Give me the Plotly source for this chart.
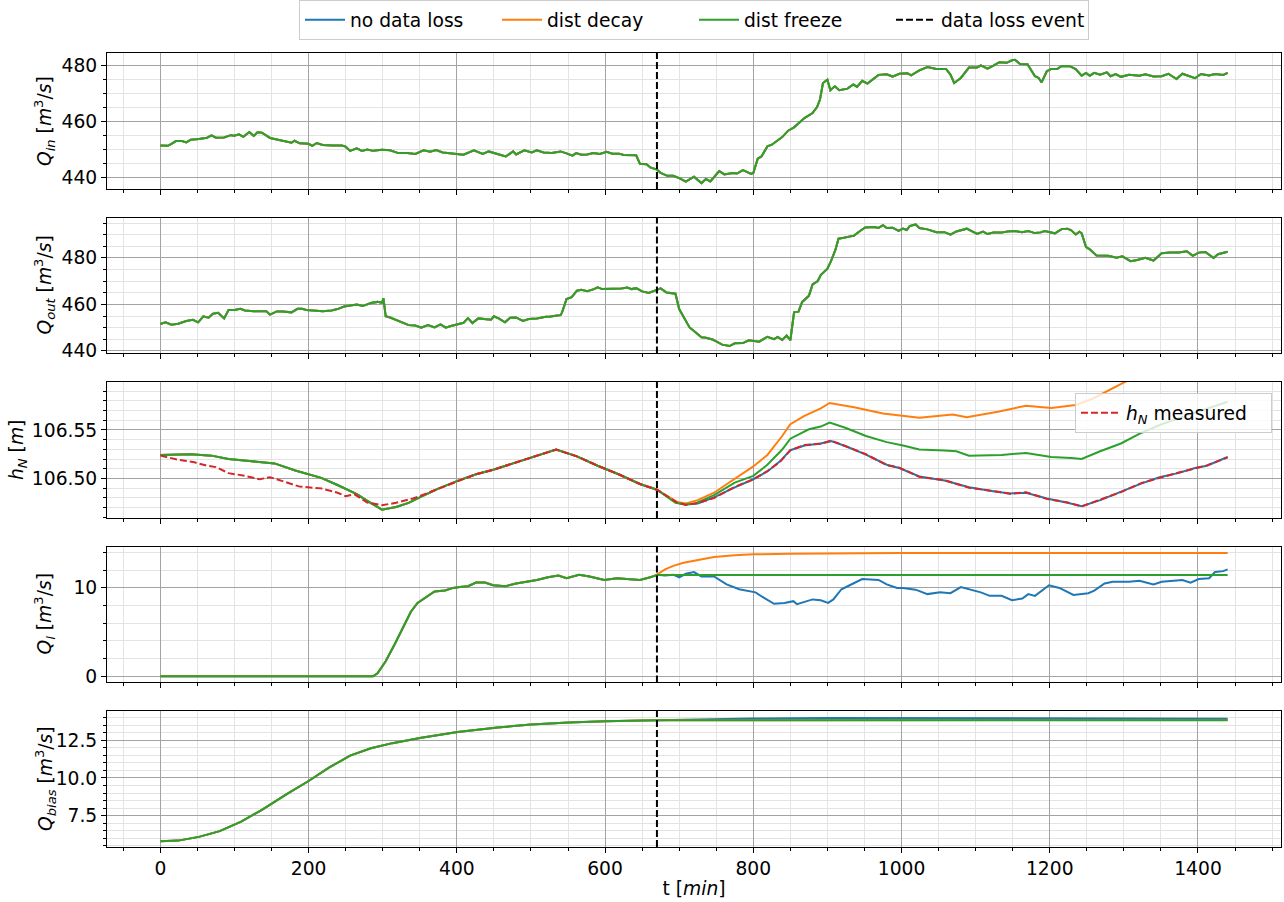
import plotly.graph_objects as go
from plotly.subplots import make_subplots

# ---------------------------------------------------------------- data
EVENT_T = 670          # minute at which the data loss starts
X_RANGE = [-72, 1512]

SERIES_NAMES = ["no data loss", "dist decay", "dist freeze"]
EVENT_NAME = "data loss event"
MEASURED_NAME = "<i>h</i><sub><i>N</i></sub> measured"

# inflow (identical for all three runs)
Q_IN = [(0,451.5),(10,451.4),(15,452.1),(21,453.1),(29,453.1),(35,452.6),(41,453.6),(52,453.8),(63,454.3),
        (69,455.1),(75,454.3),(86,454.4),(95,455.2),(100,455.0),(106,455.5),(112,454.6),(120,456.3),(126,454.9),
        (131,456.2),(137,456.1),(148,454.2),(160,453.5),(171,452.6),(177,452.5),(181,453.2),(188,452.3),(200,452.1),
        (205,451.4),(211,452.4),(219,451.7),(233,451.5),(245,451.5),(250,451.1),(256,449.6),(265,450.5),(272,449.6),
        (279,450.1),(287,449.6),(299,450.0),(310,449.8),(321,448.8),(333,448.8),(344,448.5),(355,449.8),(364,449.3),
        (372,449.9),(381,449.0),(389,448.7),(401,448.5),(409,448.2),(423,449.8),(435,448.5),(443,449.4),(452,448.7),
        (466,447.6),(476,449.4),(480,448.3),(491,449.8),(501,449.0),(508,449.8),(517,449.0),(528,448.8),(540,449.4),
        (548,448.7),(556,447.9),(561,448.8),(568,448.2),(576,448.3),(584,448.8),(593,448.5),(602,449.3),(610,448.6),
        (619,448.6),(625,448.1),(642,448.0),(647,445.0),(656,444.8),(661,443.7),(670,442.9),(675,441.7),(684,440.7),
        (692,440.7),(700,439.9),(709,438.6),(720,440.4),(730,438.1),(736,439.6),(742,438.7),(754,442.4),(761,441.2),
        (772,441.7),(778,441.5),(786,442.7),(797,441.4),(800,441.7),(806,446.8),(811,447.6),(819,451.2),(825,451.8),
        (839,454.5),(847,456.8),(855,458.0),(861,459.4),(869,461.3),(880,463.1),(886,465.2),(890,467.9),(894,473.8),
        (900,475.0),(904,471.2),(910,472.6),(916,471.2),(927,471.8),(935,473.3),(940,472.4),(947,474.6),(954,473.6),
        (961,475.0),(969,476.7),(980,476.9),(988,476.1),(997,477.1),(1008,477.3),(1013,476.5),(1024,478.3),
        (1035,479.5),(1047,478.8),(1060,478.8),(1066,476.8),(1071,473.8),(1080,475.6),(1091,479.3),(1102,479.3),
        (1107,480.1),(1116,478.9),(1124,480.0),(1132,481.2),(1142,481.0),(1149,481.9),(1153,482.1),(1160,480.6),
        (1170,480.5),(1180,476.2),(1185,475.6),(1189,474.0),(1196,478.0),(1202,478.8),(1210,478.8),(1216,479.9),
        (1227,479.8),(1235,478.8),(1243,476.4),(1249,477.4),(1254,476.4),(1260,477.4),(1268,476.8),(1277,477.6),
        (1282,476.2),(1289,477.0),(1296,476.0),(1307,476.7),(1321,476.4),(1329,476.9),(1340,476.1),(1351,476.2),
        (1360,477.1),(1371,475.2),(1379,477.1),(1387,476.4),(1396,475.5),(1404,477.0),(1415,476.5),(1423,477.0),
        (1434,476.7),(1440,477.4)]

# outflow (identical for all three runs)
Q_OUT = [(0,451.6),(7,452.3),(15,451.3),(24,451.7),(35,452.9),(44,453.4),(51,452.3),(58,454.9),(65,454.3),
         (71,456.0),(78,456.4),(86,454.0),(92,457.6),(100,457.6),(108,458.1),(114,457.4),(126,457.1),(134,457.1),
         (143,457.1),(148,455.6),(157,457.0),(165,457.0),(177,456.6),(185,458.1),(191,458.1),(197,457.6),(208,457.3),
         (219,457.1),(231,457.4),(239,458.0),(248,459.1),(256,459.6),(265,460.0),(273,459.3),(284,460.6),(293,461.1),
         (299,460.7),(301,462.6),(304,454.9),(310,454.4),(318,453.3),(327,452.1),(335,451.1),(344,450.9),(352,450.0),
         (361,451.1),(370,450.1),(378,451.4),(385,450.0),(392,450.7),(401,451.6),(409,452.1),(415,454.1),(421,452.0),
         (429,454.0),(438,453.7),(446,453.4),(450,454.9),(457,453.9),(465,452.3),(472,454.3),(480,454.4),(489,452.9),
         (497,453.7),(508,454.0),(520,454.7),(525,454.7),(533,455.1),(540,455.4),(542,456.6),(548,462.3),(555,463.1),
         (562,465.9),(568,466.3),(576,465.7),(585,466.6),(590,467.4),(596,466.6),(608,466.6),(622,466.9),(630,467.3),
         (636,466.6),(642,467.0),(650,465.6),(659,464.9),(667,465.9),(675,466.9),(683,465.1),(695,464.6),(700,458.0),
         (706,454.4),(714,450.1),(722,448.0),(730,445.9),(736,445.7),(745,444.9),(750,444.1),(758,442.7),(768,442.1),
         (775,443.3),(786,443.4),(794,444.6),(808,444.0),(819,446.1),(828,445.1),(833,446.0),(839,444.7),(845,446.6),
         (850,444.6),(855,456.6),(861,456.9),(866,461.1),(875,463.7),(880,468.6),(887,470.1),(891,472.6),(900,475.4),
         (905,478.7),(911,483.7),(915,488.3),(922,488.7),(927,489.1),(936,489.6),(944,491.6),(951,493.1),(963,493.3),
         (969,492.9),(975,494.1),(980,492.9),(988,493.0),(996,491.6),(1002,492.6),(1007,492.0),(1011,493.7),
         (1019,494.4),(1024,492.9),(1035,492.3),(1047,491.1),(1058,491.1),(1066,490.0),(1074,491.4),(1088,492.6),
         (1096,491.1),(1102,490.3),(1110,491.3),(1116,490.3),(1124,490.9),(1135,490.9),(1143,491.4),(1152,491.6),
         (1163,491.1),(1171,491.6),(1180,490.7),(1188,491.0),(1193,491.6),(1202,491.1),(1207,490.6),(1216,492.4),
         (1224,492.6),(1229,491.9),(1235,490.1),(1240,491.3),(1243,490.6),(1249,484.7),(1254,483.7),(1263,481.1),
         (1271,481.1),(1279,480.9),(1290,480.1),(1298,480.7),(1309,478.6),(1318,479.1),(1329,480.1),(1340,478.9),
         (1351,482.0),(1362,482.3),(1374,482.3),(1385,482.9),(1393,480.9),(1401,482.3),(1410,482.6),(1421,480.0),
         (1427,481.6),(1435,482.3),(1440,482.7)]

# downstream water level: shared part before the event, then one branch per run
H_COMMON = [(0,106.5243),(24,106.5247),(41,106.5250),(69,106.5236),(92,106.5201),(120,106.5181),(154,106.5156),
            (182,106.5083),(217,106.5007),(239,106.4934),(265,106.4840),(282,106.4757),(299,106.4680),(318,106.4708),
            (335,106.4750),(352,106.4813),(375,106.4896),(401,106.4976),(426,106.5045),(449,106.5090),(472,106.5146),
            (501,106.5222),(534,106.5299),(562,106.5229),(590,106.5132),(619,106.5042),(647,106.4944),(670,106.4885)]
H_NO_LOSS = [(697,106.4750),(709,106.4733),(725,106.4743),(747,106.4806),(775,106.4910),(800,106.4993),
             (819,106.5073),(836,106.5177),(850,106.5292),(869,106.5340),(891,106.5361),(905,106.5385),(925,106.5333),
             (952,106.5247),(980,106.5142),(997,106.5108),(1024,106.5021),(1058,106.4979),(1091,106.4910),
             (1119,106.4875),(1146,106.4847),(1168,106.4854),(1196,106.4795),(1224,106.4750),(1243,106.4715),
             (1268,106.4778),(1296,106.4865),(1324,106.4951),(1348,106.5014),(1373,106.5056),(1396,106.5108),
             (1412,106.5132),(1440,106.5222)]
H_DECAY = [(697,106.4760),(709,106.4743),(725,106.4778),(747,106.4854),(775,106.4993),(800,106.5125),(819,106.5243),
           (839,106.5438),(850,106.5559),(869,106.5646),(891,106.5722),(903,106.5778),(936,106.5733),(975,106.5670),
           (1024,106.5625),(1069,106.5660),(1088,106.5632),(1130,106.5688),(1168,106.5750),(1202,106.5726),
           (1235,106.5757),(1257,106.5819),(1301,106.5993),(1340,106.6120),(1400,106.6280),(1440,106.6380)]
H_FREEZE = [(695,106.4750),(709,106.4733),(722,106.4743),(747,106.4830),(775,106.4958),(800,106.5028),(819,106.5142),
            (839,106.5299),(850,106.5410),(875,106.5507),(891,106.5535),(903,106.5576),(925,106.5521),(952,106.5438),
            (980,106.5375),(1002,106.5340),(1024,106.5299),(1058,106.5288),(1074,106.5281),(1091,106.5236),
            (1135,106.5243),(1168,106.5264),(1202,106.5222),(1229,106.5212),(1243,106.5201),(1268,106.5281),
            (1296,106.5361),(1324,106.5472),(1351,106.5559),(1385,106.5650),(1420,106.5740),(1440,106.5790)]
H_MEASURED = [(0,106.5236),(24,106.5194),(46,106.5167),(63,106.5132),(75,106.5118),(92,106.5056),(114,106.5028),
              (134,106.4993),(148,106.5014),(165,106.4976),(188,106.4917),(217,106.4899),(239,106.4854),(250,106.4819),
              (262,106.4837),(279,106.4753),(299,106.4726),(318,106.4750),(341,106.4795),(352,106.4826),(375,106.4896),
              (401,106.4976),(426,106.5045),(449,106.5090),(472,106.5146),(501,106.5222),(534,106.5299),(562,106.5229),
              (590,106.5132),(619,106.5042),(647,106.4944),(670,106.4885),(697,106.4755),(709,106.4728),(725,106.4748),
              (747,106.4800),(775,106.4915),(800,106.4990),(819,106.5078),(836,106.5172),(850,106.5290),(869,106.5345),
              (891,106.5358),(905,106.5392),(925,106.5330),(952,106.5250),(980,106.5138),(997,106.5112),(1024,106.5018),
              (1058,106.4983),(1091,106.4906),(1119,106.4878),(1146,106.4843),(1168,106.4858),(1196,106.4791),
              (1224,106.4754),(1243,106.4712),(1268,106.4782),(1296,106.4861),(1324,106.4955),(1348,106.5010),
              (1373,106.5060),(1396,106.5104),(1412,106.5136),(1440,106.5218)]

# lateral flow estimate
QL_COMMON = [(0,0.0),(287,0.0),(293,0.34),(304,1.7),(316,3.6),(327,5.5),(338,7.3),(347,8.3),(358,8.9),(370,9.6),
             (384,9.7),(395,10.0),(404,10.1),(415,10.2),(426,10.6),(438,10.6),(449,10.3),(466,10.2),(480,10.5),
             (494,10.7),(508,10.9),(523,11.2),(537,11.4),(548,11.1),(565,11.5),(579,11.3),(599,10.9),(616,11.1),
             (636,11.0),(647,10.9),(661,11.2),(670,11.5)]
QL_NO_LOSS = [(681,11.4),(692,11.5),(700,11.2),(709,11.6),(720,11.8),(730,11.3),(747,11.3),(764,10.4),(781,9.85),
              (803,9.5),(814,8.9),(828,8.2),(842,8.3),(854,8.5),(859,8.15),(869,8.4),(880,8.7),(891,8.6),(901,8.3),
              (908,8.7),(919,9.85),(930,10.3),(947,11.0),(969,10.9),(980,10.4),(994,10.0),(1002,10.0),(1019,9.8),
              (1035,9.3),(1052,9.5),(1066,9.4),(1080,10.1),(1091,9.85),(1107,9.5),(1119,9.1),(1135,9.1),(1149,8.6),
              (1163,8.8),(1171,9.3),(1180,9.1),(1199,10.3),(1213,10.0),(1232,9.2),(1252,9.4),(1260,9.7),(1274,10.5),
              (1285,10.7),(1307,10.7),(1321,10.8),(1340,10.4),(1351,10.7),(1379,10.9),(1390,10.6),(1401,11.0),
              (1415,11.1),(1423,11.8),(1434,11.9),(1440,12.1)]
QL_DECAY = [(681,12.1),(692,12.5),(706,12.85),(720,13.1),(747,13.5),(775,13.7),(800,13.8),(850,13.88),(900,13.92),
            (1000,13.95),(1440,13.96)]
QL_FREEZE = [(671,11.45),(1440,11.45)]

# bias flow estimate
QB_COMMON = [(0,5.78),(24,5.83),(52,6.08),(80,6.46),(109,7.09),(137,7.88),(171,8.94),(200,9.8),(228,10.7),
             (256,11.49),(284,11.98),(313,12.32),(352,12.68),(401,13.06),(455,13.36),(500,13.56),(551,13.69),
             (600,13.78),(670,13.85)]
QB_NO_LOSS = [(750,13.92),(800,13.96),(900,14.0),(1100,14.0),(1200,13.99),(1300,13.97),(1440,13.95)]
QB_DECAY = [(1440,13.86)]
QB_FREEZE = [(1440,13.85)]

Y_RANGES = [[436.0, 484.5], [438.9, 497.4], [106.4594, 106.5994], [-0.71, 14.69], [5.405, 14.46]]
Y_DTICK = [20, 20, 0.05, 10, 2.5]
Y_MINOR = [5, 5, 0.01, 2, 0.5]
Y_FORMAT = ["d", "d", ".2f", "d", ".1f"]
Y_TITLES = [
    "<i>Q</i><sub><i>in</i></sub> [<i>m</i><sup>3</sup>/<i>s</i>]",
    "<i>Q</i><sub><i>out</i></sub> [<i>m</i><sup>3</sup>/<i>s</i>]",
    "<i>h</i><sub><i>N</i></sub> [<i>m</i>]",
    "<i>Q</i><sub><i>l</i></sub> [<i>m</i><sup>3</sup>/<i>s</i>]",
    "<i>Q</i><sub><i>bias</i></sub> [<i>m</i><sup>3</sup>/<i>s</i>]",
]
X_TITLE = "t [<i>min</i>]"

# ---------------------------------------------------------------- styling / layout constants
COLORS = ["#1f77b4", "#ff7f0e", "#2ca02c"]
RED = "#d62728"
FONT = "DejaVu Sans"
FS = 18.7
W, H = 1284, 902
ML, MR, MT, MB = 107, 3, 53, 55
TITLE_PX = [45, 45, 18, 45, 45]     # horizontal centre of each y-title, px from the left edge


def xy(pairs):
    return [p[0] for p in pairs], [p[1] for p in pairs]


def branch(common, post):
    return common + [p for p in post if p[0] > common[-1][0]]


panels = [
    [Q_IN, Q_IN, Q_IN],
    [Q_OUT, Q_OUT, Q_OUT],
    [branch(H_COMMON, H_NO_LOSS), branch(H_COMMON, H_DECAY), branch(H_COMMON, H_FREEZE)],
    [branch(QL_COMMON, QL_NO_LOSS), branch(QL_COMMON, QL_DECAY), branch(QL_COMMON, QL_FREEZE)],
    [branch(QB_COMMON, QB_NO_LOSS), branch(QB_COMMON, QB_DECAY), branch(QB_COMMON, QB_FREEZE)],
]

fig = make_subplots(rows=5, cols=1, shared_xaxes=True, vertical_spacing=0.0359)

for r, series in enumerate(panels, start=1):
    for k, pairs in enumerate(series):
        x, y = xy(pairs)
        fig.add_trace(go.Scatter(x=x, y=y, mode="lines", name=SERIES_NAMES[k],
                                 line=dict(color=COLORS[k], width=2),
                                 legendgroup=SERIES_NAMES[k], showlegend=(r == 1),
                                 legend="legend"), row=r, col=1)
    if r == 3:
        x, y = xy(H_MEASURED)
        fig.add_trace(go.Scatter(x=x, y=y, mode="lines", name=MEASURED_NAME,
                                 line=dict(color=RED, width=2, dash="7px,3px"),
                                 legend="legend2"), row=r, col=1)

# legend entry for the event marker
fig.add_trace(go.Scatter(x=[None], y=[None], mode="lines", name=EVENT_NAME,
                         line=dict(color="black", width=2, dash="7px,3px"),
                         legend="legend"), row=1, col=1)

fig.add_vline(x=EVENT_T, line=dict(color="black", width=2, dash="7px,3px"), row="all", col=1)

axis_common = dict(
    showline=True, mirror=True, linecolor="black", linewidth=1,
    ticks="outside", ticklen=5, tickwidth=1, tickcolor="black",
    showgrid=True, gridcolor="#a3a3a3", gridwidth=1, zeroline=False,
    tickfont=dict(family=FONT, size=FS, color="black"),
)

fig.update_xaxes(range=X_RANGE, tick0=0, dtick=200,
                 minor=dict(dtick=50, tick0=0, ticks="outside", ticklen=3, tickcolor="black",
                            showgrid=True, gridcolor="#e3e3e3", gridwidth=1),
                 **axis_common)
fig.update_xaxes(title=dict(text=X_TITLE, font=dict(family=FONT, size=FS, color="black"), standoff=3),
                 row=5, col=1)

plot_w = W - ML - MR
plot_h = H - MT - MB
annotations = []
for i in range(5):
    fig.update_yaxes(range=Y_RANGES[i], tick0=0, dtick=Y_DTICK[i], tickformat=Y_FORMAT[i],
                     minor=dict(dtick=Y_MINOR[i], tick0=0, ticks="outside", ticklen=3, tickcolor="black",
                                showgrid=True, gridcolor="#e3e3e3", gridwidth=1),
                     row=i + 1, col=1, **axis_common)
    dom = fig.layout["yaxis" if i == 0 else f"yaxis{i + 1}"].domain
    annotations.append(dict(text=Y_TITLES[i], xref="paper", yref="paper",
                            x=(TITLE_PX[i] - ML) / plot_w, y=(dom[0] + dom[1]) / 2,
                            xanchor="center", yanchor="middle",
                            textangle=-90, showarrow=False,
                            font=dict(family=FONT, size=FS, color="black")))

fig.update_layout(
    width=W, height=H,
    margin=dict(l=ML, r=MR, t=MT, b=MB, autoexpand=False),
    paper_bgcolor="white", plot_bgcolor="white",
    font=dict(family=FONT, size=FS, color="black"),
    annotations=annotations,
    legend=dict(orientation="h", x=0.5, xanchor="center", y=1 + 13 / plot_h, yanchor="bottom",
                bgcolor="white", bordercolor="#cccccc", borderwidth=1,
                font=dict(family=FONT, size=FS, color="black"),
                itemwidth=40, entrywidth=142, entrywidthmode="pixels", traceorder="normal"),
    legend2=dict(orientation="h", x=0.9923, xanchor="right", y=(H - MB - 393) / plot_h, yanchor="top",
                 xref="paper", yref="paper", itemwidth=40, entrywidth=140, entrywidthmode="pixels",
                 bgcolor="rgba(255,255,255,0.8)", bordercolor="#cccccc", borderwidth=1,
                 font=dict(family=FONT, size=FS, color="black")),
    showlegend=True,
)

fig.write_html("out.html")
